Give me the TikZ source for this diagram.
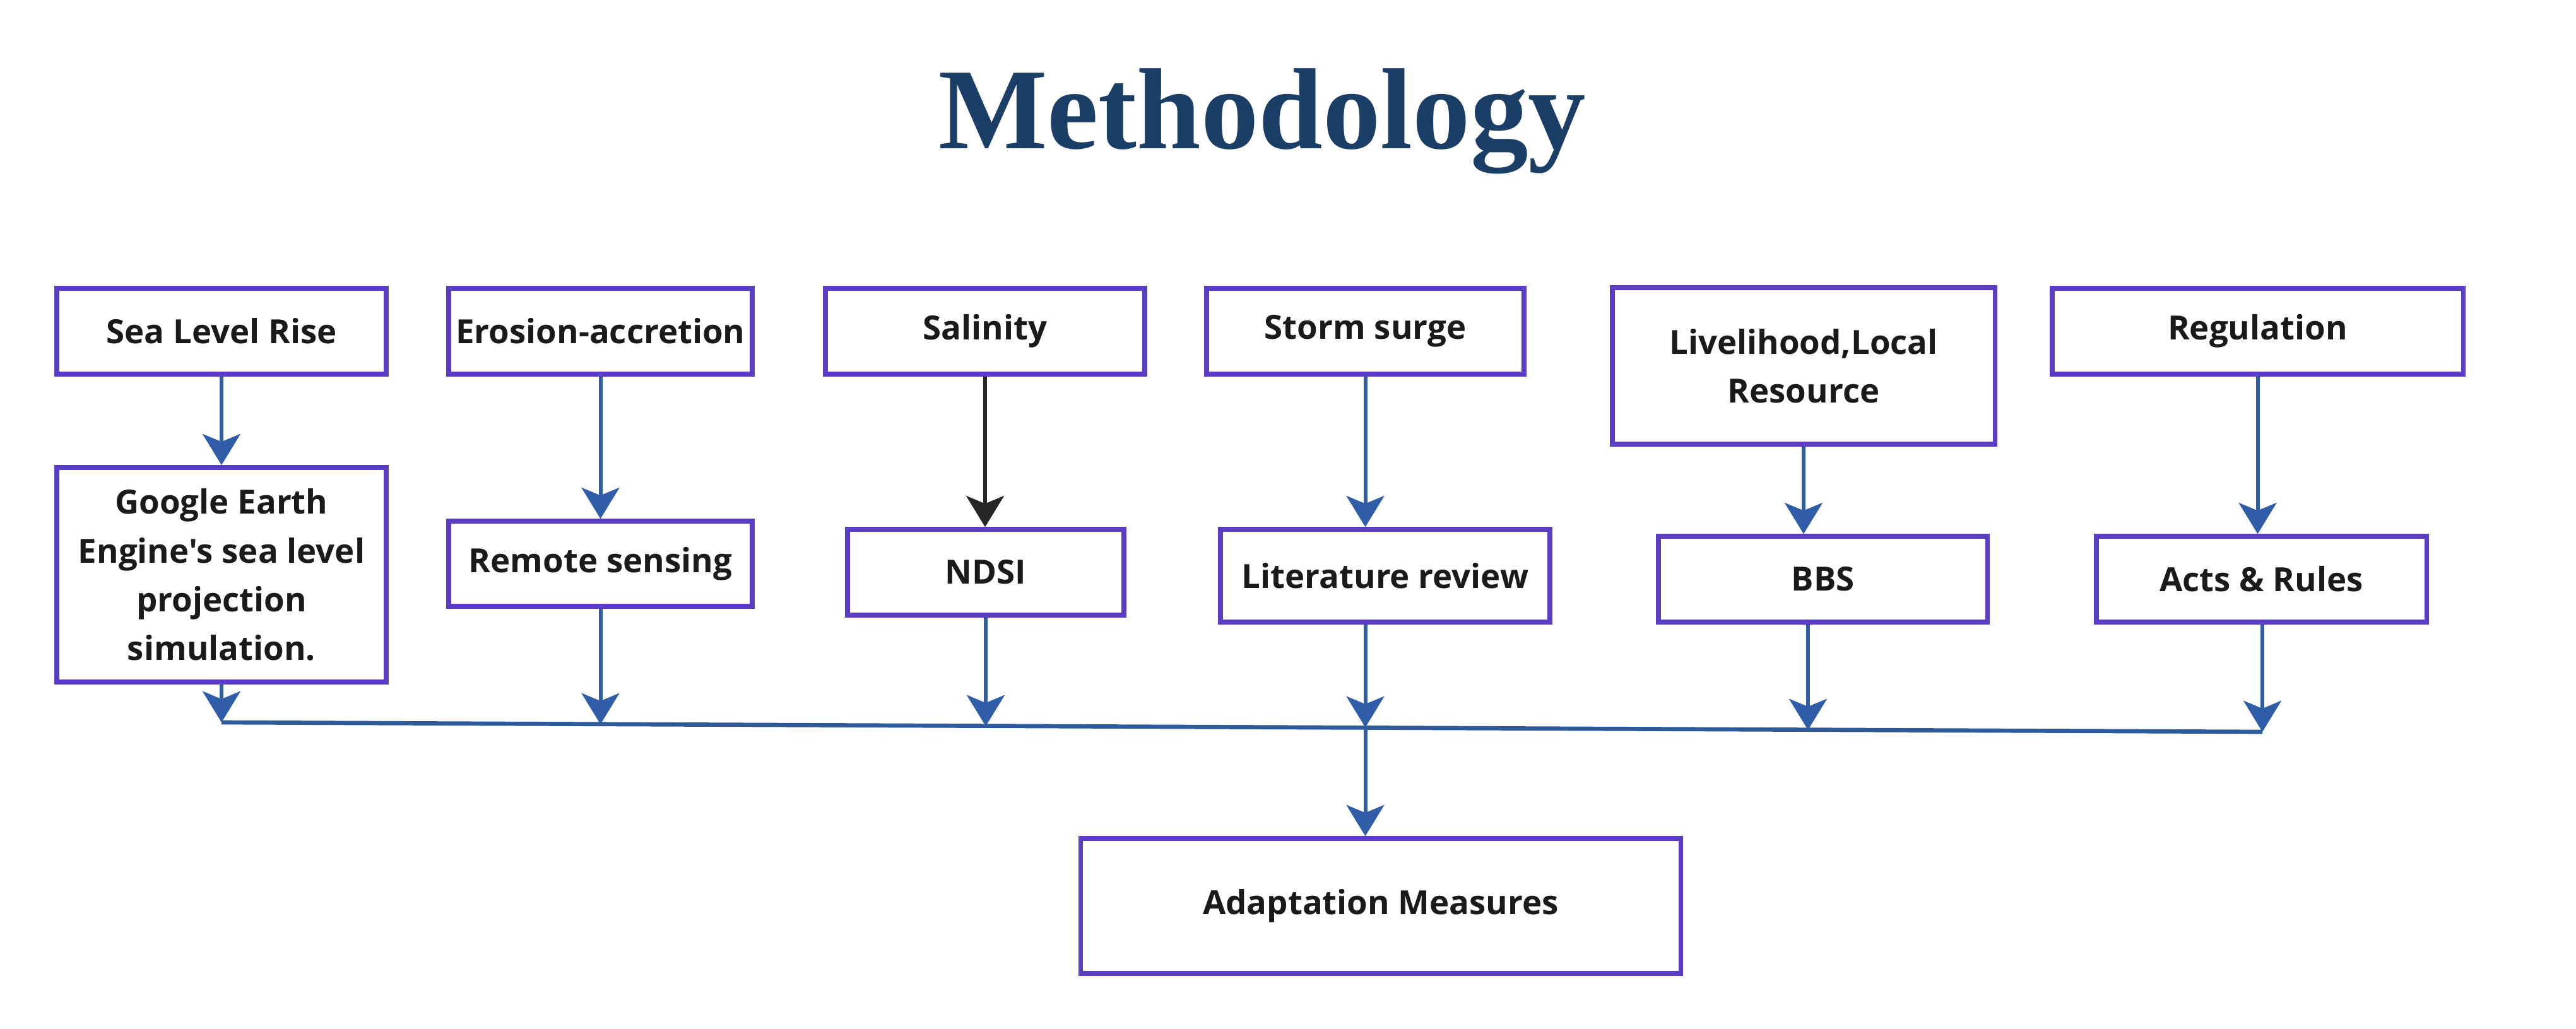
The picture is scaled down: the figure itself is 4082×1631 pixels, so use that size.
\documentclass[tikz,border=0pt]{standalone}
\usepackage{fontspec}
\newfontfamily\boxfont{Open Sans}
\newfontfamily\titlefont{Liberation Serif}
\usetikzlibrary{arrows.meta}
\definecolor{boxborder}{HTML}{5B3CC4}
\definecolor{arrowblue}{HTML}{2F5DA8}
\definecolor{busblue}{HTML}{2E5A9A}
\definecolor{titlenavy}{HTML}{1B3E66}
\definecolor{txt}{HTML}{1A1A1A}
\tikzset{
  box/.style={draw=boxborder, line width=2.1pt, rectangle, align=center, inner sep=0pt,
    font=\boxfont\fontsize{15}{22}\selectfont\bfseries, text=txt},
  flow/.style={draw=arrowblue, line width=1.7pt, -{Stealth[length=14pt, width=17pt, inset=3.5pt]}},
  darkflow/.style={flow, draw=black!85, fill=black!85},
  busline/.style={draw=busblue, line width=1.9pt},
}
\begin{document}
\begin{tikzpicture}[x=0.01cm, y=-0.01cm]
\useasboundingbox (0,0) rectangle (4082,1631);
\node[anchor=base, text=titlenavy, font=\titlefont\fontsize{52}{60}\selectfont\bfseries] (title) at (2000,236) {Methodology};

% top row
\node[box, minimum width=5.22cm, minimum height=1.36cm] (sea) at (351,525) {Sea Level Rise};
\node[box, minimum width=4.81cm, minimum height=1.36cm] (ero) at (951.5,525) {Erosion-accretion};
\node[box, minimum width=5.06cm, minimum height=1.36cm] (sal) at (1561,525) {Salinity};
\node[box, minimum width=5.03cm, minimum height=1.36cm] (storm) at (2163.5,525) {Storm surge};
\node[box, minimum width=6.06cm, minimum height=2.48cm] (live) at (2858,580) {Livelihood,Local\\Resource};
\node[box, minimum width=6.51cm, minimum height=1.36cm] (reg) at (3577.5,525) {Regulation};

% second row
\node[box, minimum width=5.22cm, minimum height=3.40cm] (google) at (351,911) {Google Earth\\Engine's sea level\\projection\\simulation.};
\node[box, minimum width=4.81cm, minimum height=1.35cm] (remote) at (951.5,893.5) {Remote sensing};
\node[box, minimum width=4.38cm, minimum height=1.36cm] (ndsi) at (1562,907) {NDSI};
\node[box, minimum width=5.22cm, minimum height=1.47cm] (lit) at (2195,912.5) {Literature review};
\node[box, minimum width=5.21cm, minimum height=1.36cm] (bbs) at (2888.5,918) {BBS};
\node[box, minimum width=5.23cm, minimum height=1.36cm] (acts) at (3583.5,918) {Acts \& Rules};

% bottom
\node[box, minimum width=9.50cm, minimum height=2.14cm] (adapt) at (2188,1436) {Adaptation Measures};

% bus coordinates
\coordinate (b1) at (351,1145);
\coordinate (b2) at (951.5,1148);
\coordinate (b3) at (1562,1151);
\coordinate (b4) at (2163.5,1153);
\coordinate (b5) at (2865,1157);
\coordinate (b6) at (3585,1160);

% top to second row
\draw[flow] (sea.south) -- (google.north);
\draw[flow] (ero.south) -- (remote.north);
\draw[darkflow] (sal.south) -- (sal.south |- ndsi.north);
\draw[flow] (storm.south) -- (storm.south |- lit.north);
\draw[flow] (live.south) -- (live.south |- bbs.north);
\draw[flow] (reg.south) -- (reg.south |- acts.north);

% bus
\draw[busline] (b1) -- (b6);

% second row to bus
\draw[flow] (google.south) -- (b1);
\draw[flow] (remote.south) -- (b2);
\draw[flow] (ndsi.south) -- (b3);
\draw[flow] (b4 |- lit.south) -- (b4);
\draw[flow] (b5 |- bbs.south) -- (b5);
\draw[flow] (b6 |- acts.south) -- (b6);

% to adaptation
\draw[flow] (b4) -- (b4 |- adapt.north);
\end{tikzpicture}
\end{document}
